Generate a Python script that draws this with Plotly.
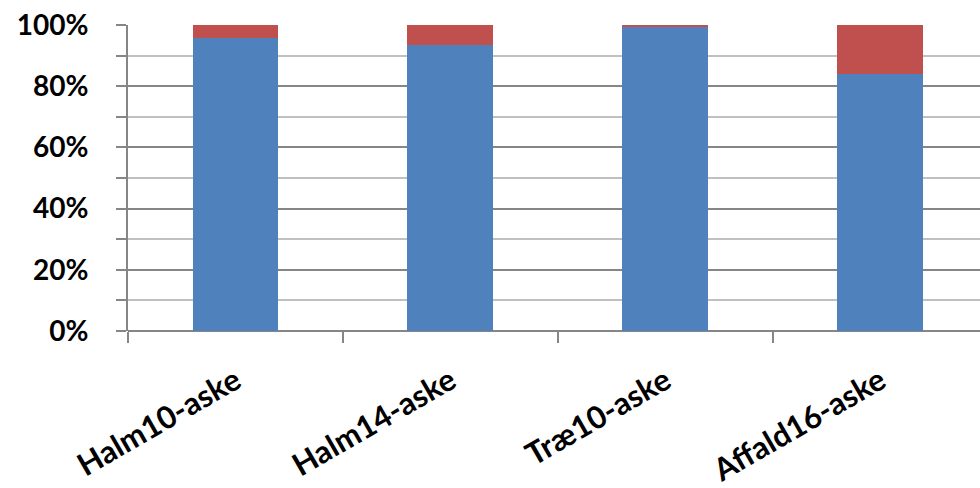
import plotly.graph_objects as go

categories = ["Halm10-aske", "Halm14-aske", "Træ10-aske", "Affald16-aske"]
series_blue = [95.6, 93.5, 99.2, 84.0]
series_red = [4.4, 6.5, 0.8, 16.0]
y_tick_vals = [0, 20, 40, 60, 80, 100]
y_tick_text = ["0%", "20%", "40%", "60%", "80%", "100%"]

BLUE = "#4F81BD"
RED = "#C0504D"
FONT = "Lato"

fig = go.Figure()
fig.add_trace(go.Bar(x=categories, y=series_blue, marker_color=BLUE,
                     marker_line_width=0, width=0.4, name="Serie 1"))
fig.add_trace(go.Bar(x=categories, y=series_red, marker_color=RED,
                     marker_line_width=0, width=0.4, name="Serie 2"))

fig.update_layout(
    barmode="stack",
    width=980, height=488,
    margin=dict(l=128, r=0, t=25, b=157),
    paper_bgcolor="white", plot_bgcolor="white",
    showlegend=False,
    font=dict(family=FONT, color="black"),
    xaxis=dict(
        type="category",
        range=[-0.5, 3.463],
        automargin=False,
        showgrid=False,
        showline=False,
        zeroline=False,
        ticks="outside", tickson="boundaries", ticklen=11, tickwidth=1.5,
        tickcolor="#868686",
        tickangle=-30,
        tickfont=dict(family=FONT, size=31, color="black", weight="bold"),
        ticklabelstandoff=25,
    ),
    yaxis=dict(
        range=[0, 100],
        automargin=False,
        tickvals=y_tick_vals, ticktext=y_tick_text,
        showline=True, linecolor="#868686", linewidth=2,
        showgrid=True, gridcolor="#868686", gridwidth=2,
        zeroline=True, zerolinecolor="#868686", zerolinewidth=2,
        ticks="outside", ticklen=10, tickwidth=1.5, tickcolor="#868686",
        tickfont=dict(family=FONT, size=28, color="black", weight="bold"),
        ticklabelstandoff=22,
        minor=dict(dtick=10, showgrid=True, gridcolor="#C0C0C0", gridwidth=1.5,
                   ticks="outside", ticklen=10, tickwidth=1.5, tickcolor="#868686"),
    ),
)

fig.write_html("out.html")
